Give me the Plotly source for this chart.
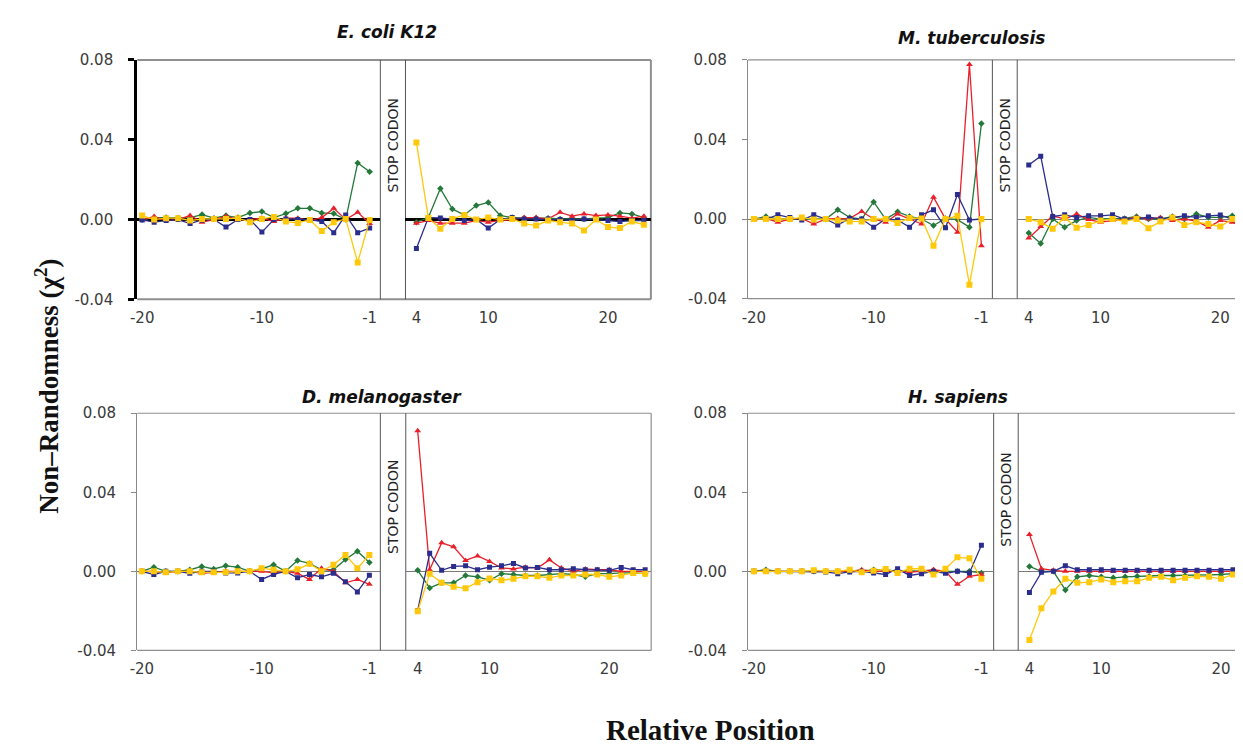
import plotly.graph_objects as go

# ---------------- data ----------------
pos_left = list(range(-20, 0))          # -20 .. -1
pos_right = list(range(4, 24))          # 4 .. 23

panel_titles = ["E. coli K12", "M. tuberculosis", "D. melanogaster", "H. sapiens"]
left_ticks = [-20, -10, -1]
right_ticks = [4, 10, 20]
y_ticks = [-0.04, 0.0, 0.04, 0.08]
y_ticktext = ["-0.04", "0.00", "0.04", "0.08"]

# E. coli K12
ecoli_green_L = [0, 0.001, 0.001, 0.0008, 0.001, 0.0025, 0.0007, 0.002, 0.001, 0.0033, 0.004, 0.001, 0.003, 0.0056, 0.0056, 0.0033, 0.003, 0.0, 0.0284, 0.024]
ecoli_red_L = [-0.0002, 0.0015, -0.0005, 0.0, 0.002, -0.0013, 0.0, 0.0017, 0.0, 0.0, 0.0007, -0.001, 0.0007, 0.0007, -0.0005, 0.001, 0.0056, 0.0, 0.0036, -0.002]
ecoli_blue_L = [-0.0002, -0.0013, -0.0005, 0.0, -0.002, -0.0002, 0.0, -0.0038, 0.0, 0.0, -0.0063, 0.0, 0.0003, 0.0, 0.0, -0.001, -0.0066, 0.0023, -0.0066, -0.0043]
ecoli_yellow_L = [0.002, 0.0, 0.0007, 0.0007, -0.0005, 0.0003, 0.0003, 0.0003, 0.0007, -0.0013, 0.0003, 0.0013, -0.001, -0.0017, -0.0002, -0.0058, -0.0013, 0.0003, -0.0215, -0.0002]
ecoli_green_R = [-0.0013, 0.001, 0.0155, 0.0053, 0.0023, 0.007, 0.0086, 0.002, 0.001, 0.0007, 0.0007, 0.0007, 0.0003, 0.0003, 0.0003, 0.0007, 0.001, 0.0033, 0.0028, 0.001]
ecoli_red_R = [-0.0018, -0.0005, -0.0018, -0.0018, -0.0018, -0.0005, -0.0013, -0.0005, 0.0, 0.001, 0.001, 0.0003, 0.0036, 0.0017, 0.0028, 0.002, 0.0023, 0.0017, 0.0007, 0.0017]
ecoli_blue_R = [-0.0145, 0.001, 0.0008, 0.0, -0.0005, 0.0, -0.0043, 0.0, 0.001, 0.0003, 0.0003, 0.0003, 0.0, -0.0005, 0.0003, 0.0, -0.0005, -0.001, -0.0005, -0.0005]
ecoli_yellow_R = [0.0386, 0.0008, -0.0046, 0.0003, 0.0023, 0.0, 0.001, 0.0, 0.0003, -0.002, -0.003, -0.0005, -0.0013, -0.002, -0.0055, 0.0, -0.0038, -0.0043, -0.001, -0.0026]

# M. tuberculosis
mtb_green_L = [0.0, 0.0013, 0.0, 0.0, 0.0, 0.0, 0.0, 0.0046, 0.0008, 0.0, 0.0086, 0.0, 0.0036, 0.0013, 0.0, -0.0033, 0.0003, -0.0003, -0.0041, 0.048]
mtb_red_L = [-0.0005, 0.0003, -0.0016, 0.0, 0.0003, -0.0025, 0.0, 0.0003, 0.0003, 0.0038, 0.0, -0.0016, 0.0025, 0.0, -0.0025, 0.011, 0.0, -0.0066, 0.0777, -0.0135]
mtb_blue_L = [0.0, 0.0, 0.0021, 0.0008, -0.0005, 0.0021, 0.0, -0.003, 0.0003, 0.0, -0.0041, 0.0, -0.0005, -0.0041, 0.0021, 0.0046, -0.0044, 0.0123, -0.0005, 0.0]
mtb_yellow_L = [0.0, 0.0, 0.0, 0.0, 0.0008, -0.0003, 0.0, -0.0008, -0.0012, -0.0013, 0.0, 0.0, -0.002, 0.0005, 0.0003, -0.0135, 0.0, 0.0016, -0.033, 0.0]
mtb_green_R = [-0.007, -0.0123, 0.0, -0.0041, -0.0008, 0.0008, 0.0, 0.0, 0.0003, 0.0013, 0.0, 0.0, 0.0013, 0.0, 0.0025, 0.0008, 0.0008, 0.0016, 0.0008, 0.0005]
mtb_red_R = [-0.0095, -0.0038, 0.0016, 0.0, 0.0025, -0.0003, -0.0016, -0.0008, 0.0, 0.0008, 0.0, 0.0008, -0.0008, 0.0, -0.0011, -0.0041, -0.0008, -0.0016, -0.0033, -0.001]
mtb_blue_R = [0.0272, 0.0316, 0.0013, 0.0021, 0.0008, 0.0016, 0.0016, 0.0021, 0.0, 0.0, 0.001, 0.0, 0.0008, 0.0016, 0.0008, 0.0016, 0.002, 0.0, -0.0008, 0.0]
mtb_yellow_R = [0.0, -0.0016, -0.0049, 0.0008, -0.0044, -0.003, -0.0008, 0.0, -0.0012, 0.0, -0.0046, -0.0013, 0.0008, -0.003, -0.0016, -0.0025, -0.0038, 0.0, 0.002, 0.0008]

# D. melanogaster
dmel_green_L = [0.0, 0.0021, 0.0, 0.0, 0.0008, 0.0025, 0.0012, 0.0028, 0.0021, 0.0, 0.0012, 0.0033, 0.0, 0.0055, 0.004, 0.0008, 0.0008, 0.006, 0.0102, 0.0045]
dmel_red_L = [0.0, 0.0, -0.0008, 0.0, 0.0, -0.001, -0.0005, 0.0, 0.0, 0.0, 0.0, -0.0008, 0.0, -0.001, -0.0041, 0.0016, 0.0, -0.0058, -0.0041, -0.0066]
dmel_blue_L = [0.0, -0.0016, 0.0, 0.0, -0.001, 0.0, 0.0, -0.0008, -0.0008, 0.0, -0.0041, -0.0016, 0.0, -0.0033, -0.0016, -0.0028, -0.001, -0.0053, -0.0104, -0.002]
dmel_yellow_L = [0.0, 0.0, -0.0005, 0.0, 0.0, -0.0005, -0.0005, -0.0005, 0.0, 0.0, 0.0016, 0.0008, 0.0, 0.001, 0.0038, 0.0, 0.0033, 0.0083, 0.0016, 0.0083]
dmel_green_R = [0.0005, -0.0084, -0.0058, -0.0058, -0.0021, -0.0028, -0.0045, -0.0012, -0.0016, -0.0021, -0.0021, -0.0016, -0.0012, -0.0016, -0.0028, -0.0012, -0.0012, -0.0008, -0.0008, -0.0012]
dmel_red_R = [0.0711, 0.0008, 0.0144, 0.0124, 0.0055, 0.0078, 0.005, 0.0017, 0.0012, 0.0021, 0.0017, 0.0058, 0.0017, 0.0, 0.0012, 0.0008, 0.0008, 0.0, 0.0, 0.0]
dmel_blue_R = [-0.0198, 0.0091, 0.0005, 0.0025, 0.0028, 0.0008, 0.0021, 0.0028, 0.004, 0.0017, 0.002, 0.0008, 0.0008, 0.0013, 0.0008, 0.0008, 0.0005, 0.002, 0.0008, 0.0008]
dmel_yellow_R = [-0.0202, -0.0012, -0.0058, -0.0078, -0.0086, -0.0055, -0.0036, -0.0045, -0.0038, -0.0025, -0.0025, -0.0033, -0.0021, -0.0021, -0.0016, -0.0016, -0.0028, -0.0021, -0.0008, -0.0012]

# H. sapiens
hsap_green_L = [0.0, 0.0008, 0.0, 0.0, 0.0, 0.0, 0.0, 0.0, 0.0, 0.0, 0.0008, 0.0008, 0.0, 0.0003, 0.0, 0.0005, 0.0, 0.0, 0.0, -0.0008]
hsap_red_L = [0.0, 0.0, 0.0, 0.0, 0.0, 0.0, 0.0, 0.0, 0.0, 0.0008, 0.0, 0.0, 0.0, -0.0005, 0.0, 0.0008, 0.0, -0.0066, -0.0025, -0.0016]
hsap_blue_L = [0.0, 0.0, 0.0, 0.0, 0.0, 0.0, -0.0003, -0.0012, -0.0003, 0.0, -0.0008, -0.0016, 0.0013, -0.0021, -0.0012, 0.0, -0.001, 0.0, -0.0008, 0.0132]
hsap_yellow_L = [0.0, 0.0, 0.0, 0.0, 0.0, 0.0005, 0.0, 0.0, 0.0008, -0.0005, 0.0003, 0.0012, -0.0008, 0.0013, 0.0013, -0.0016, 0.0013, 0.0071, 0.0066, -0.0038]
hsap_green_R = [0.0025, 0.0, 0.0, -0.0094, -0.0028, -0.0021, -0.0028, -0.0033, -0.0028, -0.0025, -0.0025, -0.0021, -0.0021, -0.0021, -0.0021, -0.0018, -0.0016, -0.0012, -0.0012, -0.001]
hsap_red_R = [0.0187, 0.0013, 0.0005, 0.0, 0.0, 0.0, 0.0, 0.0, 0.0, 0.0, 0.0, 0.0, 0.0, 0.0, 0.0, 0.0, 0.0, 0.0, 0.0, 0.0]
hsap_blue_R = [-0.0107, -0.0005, 0.0, 0.0028, 0.0008, 0.0008, 0.0008, 0.0005, 0.0005, 0.0005, 0.0005, 0.0005, 0.0005, 0.0005, 0.0005, 0.0005, 0.0005, 0.0008, 0.0008, 0.0008]
hsap_yellow_R = [-0.0347, -0.0187, -0.0102, -0.0038, -0.0058, -0.0055, -0.0041, -0.0055, -0.005, -0.005, -0.0033, -0.0028, -0.0045, -0.0033, -0.0025, -0.0028, -0.0038, -0.0016, -0.0016, -0.0012]

series_data = [
    {"green": (ecoli_green_L, ecoli_green_R), "red": (ecoli_red_L, ecoli_red_R),
     "blue": (ecoli_blue_L, ecoli_blue_R), "yellow": (ecoli_yellow_L, ecoli_yellow_R)},
    {"green": (mtb_green_L, mtb_green_R), "red": (mtb_red_L, mtb_red_R),
     "blue": (mtb_blue_L, mtb_blue_R), "yellow": (mtb_yellow_L, mtb_yellow_R)},
    {"green": (dmel_green_L, dmel_green_R), "red": (dmel_red_L, dmel_red_R),
     "blue": (dmel_blue_L, dmel_blue_R), "yellow": (dmel_yellow_L, dmel_yellow_R)},
    {"green": (hsap_green_L, hsap_green_R), "red": (hsap_red_L, hsap_red_R),
     "blue": (hsap_blue_L, hsap_blue_R), "yellow": (hsap_yellow_L, hsap_yellow_R)},
]

# ---------------- styles ----------------
W, H = 1243, 748
styles = {
    "green": dict(color="#23783a", symbol="diamond", size=5),
    "red": dict(color="#e8202a", symbol="triangle-up", size=6),
    "blue": dict(color="#2b2d8c", symbol="square", size=5),
    "yellow": dict(color="#ffc80a", symbol="square", size=6),
}
order = ["green", "red", "blue", "yellow"]

# pixel layout of each panel: left block, right block, top, bottom, anchor px of -20 and 4
S = 12.05
panels = [
    dict(L=(122, 366.7), R=(392, 639), top=44, bot=289.3, aL=127, aR=403, cut=False,
         title=(373, 15), stop=(379, 132)),
    dict(L=(736.7, 982.7), R=(1007.7, 1243), top=44, bot=288.5, aL=742.7, aR=1019.3, cut=True,
         title=(962, 22), stop=(995, 132)),
    dict(L=(122, 366.7), R=(392.3, 639.3), top=406, bot=649, aL=126.7, aR=404.3, cut=False,
         title=(368, 389), stop=(379.5, 502)),
    dict(L=(736.7, 984), R=(1008.7, 1243), top=406, bot=649, aL=742.7, aR=1020, cut=True,
         title=(948, 389), stop=(996, 495)),
]


def xp(px):
    return px / W


def yp(py):
    return 1 - py / H


fig = go.Figure()
layout = dict(width=W, height=H, margin=dict(l=0, r=0, t=0, b=0),
              paper_bgcolor="white", plot_bgcolor="rgba(0,0,0,0)", showlegend=False)
shapes = []
annotations = []
tickfont = dict(family="DejaVu Sans", size=15, color="#3a3a3a")

for i, p in enumerate(panels):
    first = i == 0
    ia, ib = 2 * i + 1, 2 * i + 2
    for j, (side, positions, ticks) in enumerate([("L", pos_left, left_ticks), ("R", pos_right, right_ticks)]):
        k = ia if j == 0 else ib
        xs = "" if k == 1 else str(k)
        px0, px1 = p[side]
        if side == "L":
            rng = [-20 + (px0 - p["aL"]) / S, -20 + (px1 - p["aL"]) / S]
        else:
            rng = [4 + (px0 - p["aR"]) / S, 4 + (px1 - p["aR"]) / S]
        layout["xaxis" + xs] = dict(
            domain=[xp(px0), min(1.0, xp(px1))], range=rng, anchor="y" + xs,
            tickvals=ticks, ticktext=[str(t) for t in ticks], ticks="",
            showline=False, showgrid=False, zeroline=False, tickfont=tickfont,
            ticklabelstandoff=8,
        )
        ycfg = dict(
            domain=[yp(p["bot"]), yp(p["top"])], range=[-0.04, 0.08], anchor="x" + xs,
            showgrid=False, zeroline=True,
            zerolinecolor="#000" if first else "#7a7a7a",
            zerolinewidth=2.5 if first else 1,
        )
        if side == "L":
            ycfg.update(tickvals=y_ticks, ticktext=y_ticktext, ticks="outside",
                        ticklen=6 if first else 5,
                        tickcolor="#000" if first else "#888",
                        tickwidth=2.5 if first else 1,
                        showline=True, linecolor="#000" if first else "#8a8a8a",
                        linewidth=3 if first else 1.2, tickfont=tickfont,
                        ticklabelstandoff=12)
        else:
            ycfg.update(showticklabels=False, ticks="", showline=False)
        layout["yaxis" + xs] = ycfg

        for name in order:
            st = styles[name]
            vals = series_data[i][name][j]
            fig.add_trace(go.Scatter(
                x=positions, y=vals, mode="lines+markers",
                xaxis="x" + xs, yaxis="y" + xs,
                line=dict(color=st["color"], width=1.3),
                marker=dict(color=st["color"], symbol=st["symbol"], size=st["size"]),
                hoverinfo="skip",
            ))

    # frame lines
    box_col = "#8f8f8f"
    box_w = 2 if first else 1.2
    xl0, xl1 = xp(p["L"][0]), xp(p["L"][1])
    xr0, xr1 = xp(p["R"][0]), xp(p["R"][1])
    yt, yb = yp(p["top"]), yp(p["bot"])
    right_end = 1.02 if p["cut"] else xr1
    shapes.append(dict(type="line", xref="paper", yref="paper", x0=xl0, x1=right_end, y0=yt, y1=yt,
                       line=dict(color=box_col, width=box_w), layer="below"))
    shapes.append(dict(type="line", xref="paper", yref="paper", x0=xl0, x1=right_end, y0=yb, y1=yb,
                       line=dict(color=box_col, width=box_w), layer="below"))
    if not p["cut"]:
        shapes.append(dict(type="line", xref="paper", yref="paper", x0=xr1, x1=xr1, y0=yb, y1=yt,
                           line=dict(color=box_col, width=box_w), layer="below"))
    for xv in (xl1, xr0):
        shapes.append(dict(type="line", xref="paper", yref="paper", x0=xv, x1=xv, y0=yb, y1=yt,
                           line=dict(color="#555", width=1), layer="below"))

    annotations.append(dict(
        text="<b><i>%s</i></b>" % panel_titles[i], xref="paper", yref="paper",
        x=xp(p["title"][0]), y=yp(p["title"][1]), xanchor="center", yanchor="middle",
        showarrow=False, font=dict(family="DejaVu Sans", size=17, color="#111")))
    annotations.append(dict(
        text="STOP CODON", xref="paper", yref="paper", textangle=-90,
        x=xp(p["stop"][0]), y=yp(p["stop"][1]), xanchor="center", yanchor="middle",
        showarrow=False, font=dict(family="DejaVu Sans", size=14, color="#222")))

annotations.append(dict(
    text="<b>Non–Randomness (χ<sup>2</sup>)</b>", xref="paper", yref="paper", textangle=-90,
    x=xp(31), y=yp(378), xanchor="center", yanchor="middle", showarrow=False,
    font=dict(family="Liberation Serif", size=27, color="#111")))
annotations.append(dict(
    text="<b>Relative Position</b>", xref="paper", yref="paper",
    x=xp(699), y=yp(731), xanchor="center", yanchor="middle", showarrow=False,
    font=dict(family="Liberation Serif", size=29, color="#111")))

layout["shapes"] = shapes
layout["annotations"] = annotations
fig.update_layout(**layout)
fig.write_html("out.html")
